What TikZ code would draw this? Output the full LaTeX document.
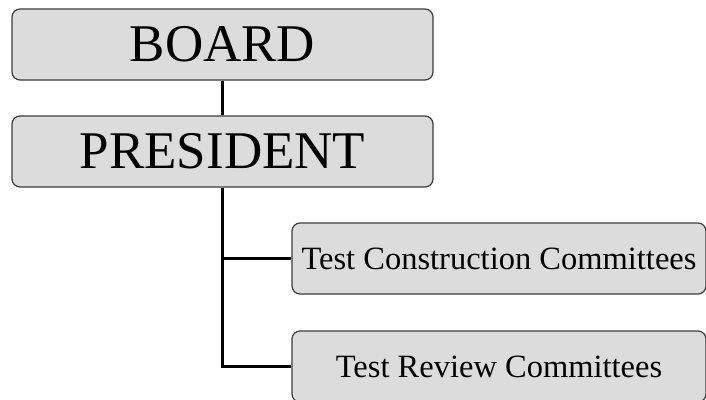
\documentclass[tikz,border=0pt]{standalone}
\usepackage{fontspec}
\setmainfont{Liberation Serif}
\definecolor{boxgray}{RGB}{220,220,220}
\definecolor{boxline}{RGB}{60,60,60}
\begin{document}
\begin{tikzpicture}[x=1pt,y=-1pt,
    bigbox/.style={rectangle,rounded corners=8pt,draw=boxline,line width=1.2pt,fill=boxgray,
      minimum width=421pt,minimum height=71pt,inner sep=0pt,font=\fontsize{53}{60}\selectfont},
    smallbox/.style={rectangle,rounded corners=8pt,draw=boxline,line width=1.2pt,fill=boxgray,
      minimum width=414pt,minimum height=71pt,inner sep=0pt,font=\fontsize{32.5}{38}\selectfont},
    link/.style={line width=2.5pt,black}]
        \useasboundingbox (0,0) rectangle (706,399);

        \node[bigbox] (board) at(222.5,44.5){BOARD};
        \node[bigbox] (president) at(222.5,151.5){PRESIDENT};

        \node[smallbox] (construction) at(499,258.5){Test Construction Committees};
        \node[smallbox] (review) at(499,366.5){Test Review Committees};

        \coordinate (branch) at(222.5,258.5);
        \draw [link] (board) -- (president);
        \draw [link] (president.south) |- (review.west);
        \draw [link] (branch) -- (construction.west);

      \end{tikzpicture}
\end{document}
